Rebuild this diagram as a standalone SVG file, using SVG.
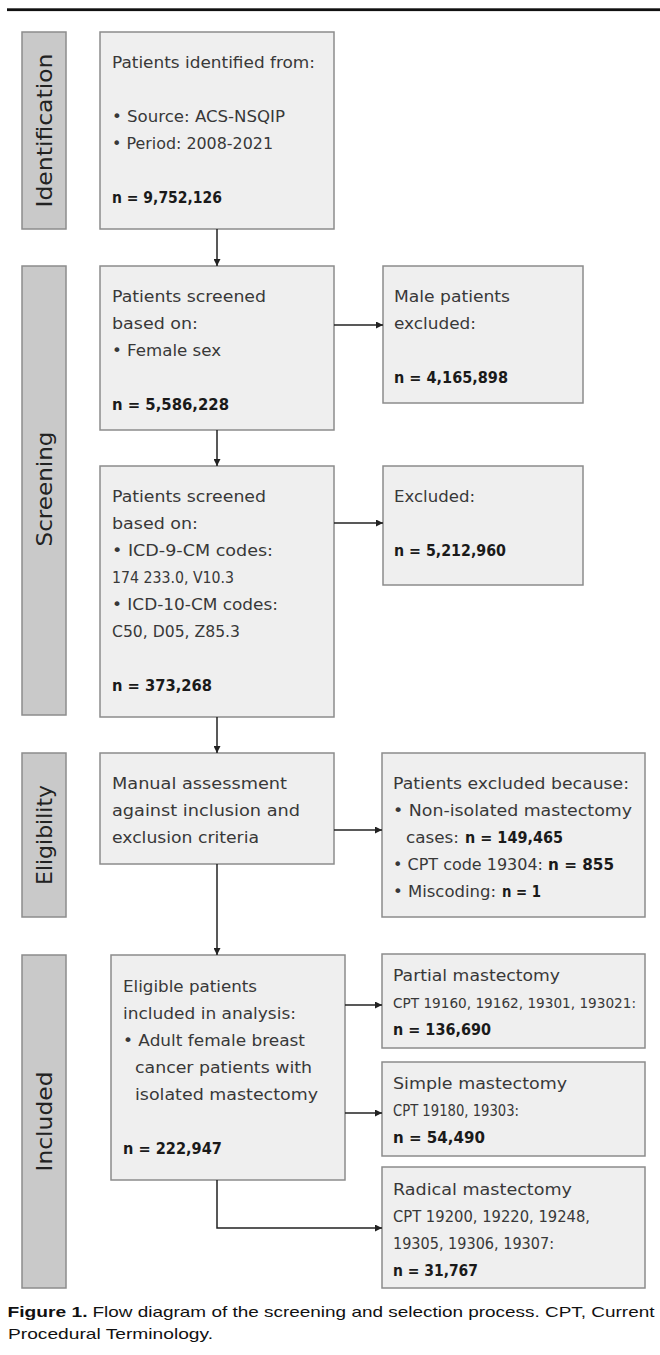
<svg xmlns="http://www.w3.org/2000/svg" width="660" height="1355" viewBox="0 0 660 1355">
<style>
.box{fill:#efefef;stroke:#8c8c8c;stroke-width:1.5}
.lab{fill:#c9c9c9;stroke:#8c8c8c;stroke-width:1.5}
.t{font-family:"DejaVu Sans",sans-serif;font-size:16px;fill:#383838}
.b{font-weight:bold;fill:#1a1a1a}
.lt{font-family:"DejaVu Sans",sans-serif;font-size:21.5px;fill:#222}
.cap{font-family:"Liberation Sans",Arial,sans-serif;font-size:15px;fill:#111}
.con{fill:none;stroke:#222;stroke-width:1.5}
</style>
<defs>
<marker id="ah" viewBox="0 0 10 10" refX="10" refY="5" markerWidth="8" markerHeight="7" markerUnits="userSpaceOnUse" orient="auto"><path d="M0,0 L10,5 L0,10 z" fill="#222"/></marker>
</defs>
<rect x="7" y="8.3" width="653" height="2.8" fill="#111"/>

<g id="label-identification"><rect class="lab" x="22" y="32" width="44" height="197"/><text class="lt" transform="translate(52,130.5) rotate(-90)" text-anchor="middle" textLength="154" lengthAdjust="spacingAndGlyphs">Identification</text></g>
<g id="label-screening"><rect class="lab" x="22" y="266" width="44" height="449"/><text class="lt" transform="translate(52,489) rotate(-90)" text-anchor="middle" textLength="115" lengthAdjust="spacingAndGlyphs">Screening</text></g>
<g id="label-eligibility"><rect class="lab" x="22" y="753" width="44" height="164"/><text class="lt" transform="translate(52,835) rotate(-90)" text-anchor="middle" textLength="100" lengthAdjust="spacingAndGlyphs">Eligibility</text></g>
<g id="label-included"><rect class="lab" x="22" y="955" width="44" height="333"/><text class="lt" transform="translate(52,1121.5) rotate(-90)" text-anchor="middle" textLength="100" lengthAdjust="spacingAndGlyphs">Included</text></g>

<g id="identified">
<rect class="box" x="100" y="32" width="234" height="197"/>
<text class="t" x="112" y="68" textLength="203" lengthAdjust="spacingAndGlyphs">Patients identified from:</text>
<text class="t" x="112" y="122" textLength="173" lengthAdjust="spacingAndGlyphs">• Source: ACS-NSQIP</text>
<text class="t" x="112" y="149" textLength="161" lengthAdjust="spacingAndGlyphs">• Period: 2008-2021</text>
<text class="t b" x="112" y="203" textLength="110" lengthAdjust="spacingAndGlyphs">n = 9,752,126</text>
</g>

<g id="screened-sex">
<rect class="box" x="100" y="266" width="234" height="164"/>
<text class="t" x="112" y="302" textLength="154" lengthAdjust="spacingAndGlyphs">Patients screened</text>
<text class="t" x="112" y="329" textLength="86" lengthAdjust="spacingAndGlyphs">based on:</text>
<text class="t" x="112" y="356" textLength="109" lengthAdjust="spacingAndGlyphs">• Female sex</text>
<text class="t b" x="112" y="410" textLength="117" lengthAdjust="spacingAndGlyphs">n = 5,586,228</text>
</g>

<g id="male-excluded">
<rect class="box" x="383" y="266" width="200" height="137"/>
<text class="t" x="394" y="302" textLength="116" lengthAdjust="spacingAndGlyphs">Male patients</text>
<text class="t" x="394" y="329" textLength="82" lengthAdjust="spacingAndGlyphs">excluded:</text>
<text class="t b" x="394" y="383" textLength="114" lengthAdjust="spacingAndGlyphs">n = 4,165,898</text>
</g>

<g id="screened-icd">
<rect class="box" x="100" y="466" width="234" height="251"/>
<text class="t" x="112" y="502" textLength="154" lengthAdjust="spacingAndGlyphs">Patients screened</text>
<text class="t" x="112" y="529" textLength="86" lengthAdjust="spacingAndGlyphs">based on:</text>
<text class="t" x="112" y="556" textLength="161" lengthAdjust="spacingAndGlyphs">• ICD-9-CM codes:</text>
<text class="t" x="112" y="583" textLength="122" lengthAdjust="spacingAndGlyphs">174 233.0, V10.3</text>
<text class="t" x="112" y="610" textLength="166" lengthAdjust="spacingAndGlyphs">• ICD-10-CM codes:</text>
<text class="t" x="112" y="637" textLength="128" lengthAdjust="spacingAndGlyphs">C50, D05, Z85.3</text>
<text class="t b" x="112" y="691" textLength="100" lengthAdjust="spacingAndGlyphs">n = 373,268</text>
</g>

<g id="excluded">
<rect class="box" x="383" y="466" width="200" height="119"/>
<text class="t" x="394" y="502" textLength="81" lengthAdjust="spacingAndGlyphs">Excluded:</text>
<text class="t b" x="394" y="556" textLength="112" lengthAdjust="spacingAndGlyphs">n = 5,212,960</text>
</g>

<g id="manual-assessment">
<rect class="box" x="100" y="753" width="234" height="111"/>
<text class="t" x="112" y="789" textLength="175" lengthAdjust="spacingAndGlyphs">Manual assessment</text>
<text class="t" x="112" y="816" textLength="188" lengthAdjust="spacingAndGlyphs">against inclusion and</text>
<text class="t" x="112" y="843" textLength="147" lengthAdjust="spacingAndGlyphs">exclusion criteria</text>
</g>

<g id="excluded-because">
<rect class="box" x="382" y="753" width="263" height="164"/>
<text class="t" x="393" y="789" textLength="236" lengthAdjust="spacingAndGlyphs">Patients excluded because:</text>
<text class="t" x="393" y="816" textLength="239" lengthAdjust="spacingAndGlyphs">• Non-isolated mastectomy</text>
<text class="t" x="406" y="843" textLength="53" lengthAdjust="spacingAndGlyphs">cases:</text>
<text class="t b" x="465" y="843" textLength="98" lengthAdjust="spacingAndGlyphs">n = 149,465</text>
<text class="t" x="393" y="870" textLength="150" lengthAdjust="spacingAndGlyphs">• CPT code 19304:</text>
<text class="t b" x="548" y="870" textLength="66" lengthAdjust="spacingAndGlyphs">n = 855</text>
<text class="t" x="393" y="897" textLength="103" lengthAdjust="spacingAndGlyphs">• Miscoding:</text>
<text class="t b" x="502" y="897" textLength="39" lengthAdjust="spacingAndGlyphs">n = 1</text>
</g>

<g id="eligible">
<rect class="box" x="111" y="955" width="234" height="225"/>
<text class="t" x="123" y="992" textLength="134" lengthAdjust="spacingAndGlyphs">Eligible patients</text>
<text class="t" x="123" y="1019" textLength="173" lengthAdjust="spacingAndGlyphs">included in analysis:</text>
<text class="t" x="123" y="1046" textLength="182" lengthAdjust="spacingAndGlyphs">• Adult female breast</text>
<text class="t" x="135" y="1073" textLength="177" lengthAdjust="spacingAndGlyphs">cancer patients with</text>
<text class="t" x="135" y="1100" textLength="183" lengthAdjust="spacingAndGlyphs">isolated mastectomy</text>
<text class="t b" x="123" y="1154" textLength="99" lengthAdjust="spacingAndGlyphs">n = 222,947</text>
</g>

<g id="partial">
<rect class="box" x="382" y="954" width="263" height="94"/>
<text class="t" x="393" y="981" textLength="167" lengthAdjust="spacingAndGlyphs">Partial mastectomy</text>
<text class="t" x="393" y="1008" font-size="14" style="font-size:14px" textLength="243" lengthAdjust="spacingAndGlyphs">CPT 19160, 19162, 19301, 193021:</text>
<text class="t b" x="393" y="1035" textLength="98" lengthAdjust="spacingAndGlyphs">n = 136,690</text>
</g>

<g id="simple">
<rect class="box" x="382" y="1062" width="263" height="94"/>
<text class="t" x="393" y="1089" textLength="174" lengthAdjust="spacingAndGlyphs">Simple mastectomy</text>
<text class="t" x="393" y="1116" textLength="126" lengthAdjust="spacingAndGlyphs">CPT 19180, 19303:</text>
<text class="t b" x="393" y="1143" textLength="92" lengthAdjust="spacingAndGlyphs">n = 54,490</text>
</g>

<g id="radical">
<rect class="box" x="382" y="1167" width="263" height="121"/>
<text class="t" x="393" y="1195" textLength="179" lengthAdjust="spacingAndGlyphs">Radical mastectomy</text>
<text class="t" x="393" y="1222" textLength="197" lengthAdjust="spacingAndGlyphs">CPT 19200, 19220, 19248,</text>
<text class="t" x="393" y="1249" textLength="161" lengthAdjust="spacingAndGlyphs">19305, 19306, 19307:</text>
<text class="t b" x="393" y="1276" textLength="85" lengthAdjust="spacingAndGlyphs">n = 31,767</text>
</g>

<g id="connectors">
<line class="con" x1="217" y1="229" x2="217" y2="266" marker-end="url(#ah)"/>
<line class="con" x1="334" y1="325" x2="383" y2="325" marker-end="url(#ah)"/>
<line class="con" x1="217" y1="430" x2="217" y2="466" marker-end="url(#ah)"/>
<line class="con" x1="334" y1="523" x2="383" y2="523" marker-end="url(#ah)"/>
<line class="con" x1="217" y1="717" x2="217" y2="753" marker-end="url(#ah)"/>
<line class="con" x1="334" y1="830" x2="382" y2="830" marker-end="url(#ah)"/>
<line class="con" x1="217" y1="864" x2="217" y2="955" marker-end="url(#ah)"/>
<line class="con" x1="345" y1="1005" x2="382" y2="1005" marker-end="url(#ah)"/>
<line class="con" x1="345" y1="1113" x2="382" y2="1113" marker-end="url(#ah)"/>
<path class="con" d="M217,1180 V1228 H382" marker-end="url(#ah)"/>
</g>

<text class="cap" x="7.5" y="1317" font-weight="bold" textLength="80" lengthAdjust="spacingAndGlyphs">Figure 1.</text>
<text class="cap" x="92.5" y="1317" textLength="562" lengthAdjust="spacingAndGlyphs">Flow diagram of the screening and selection process. CPT, Current</text>
<text class="cap" x="8" y="1339" textLength="205" lengthAdjust="spacingAndGlyphs">Procedural Terminology.</text>
</svg>
